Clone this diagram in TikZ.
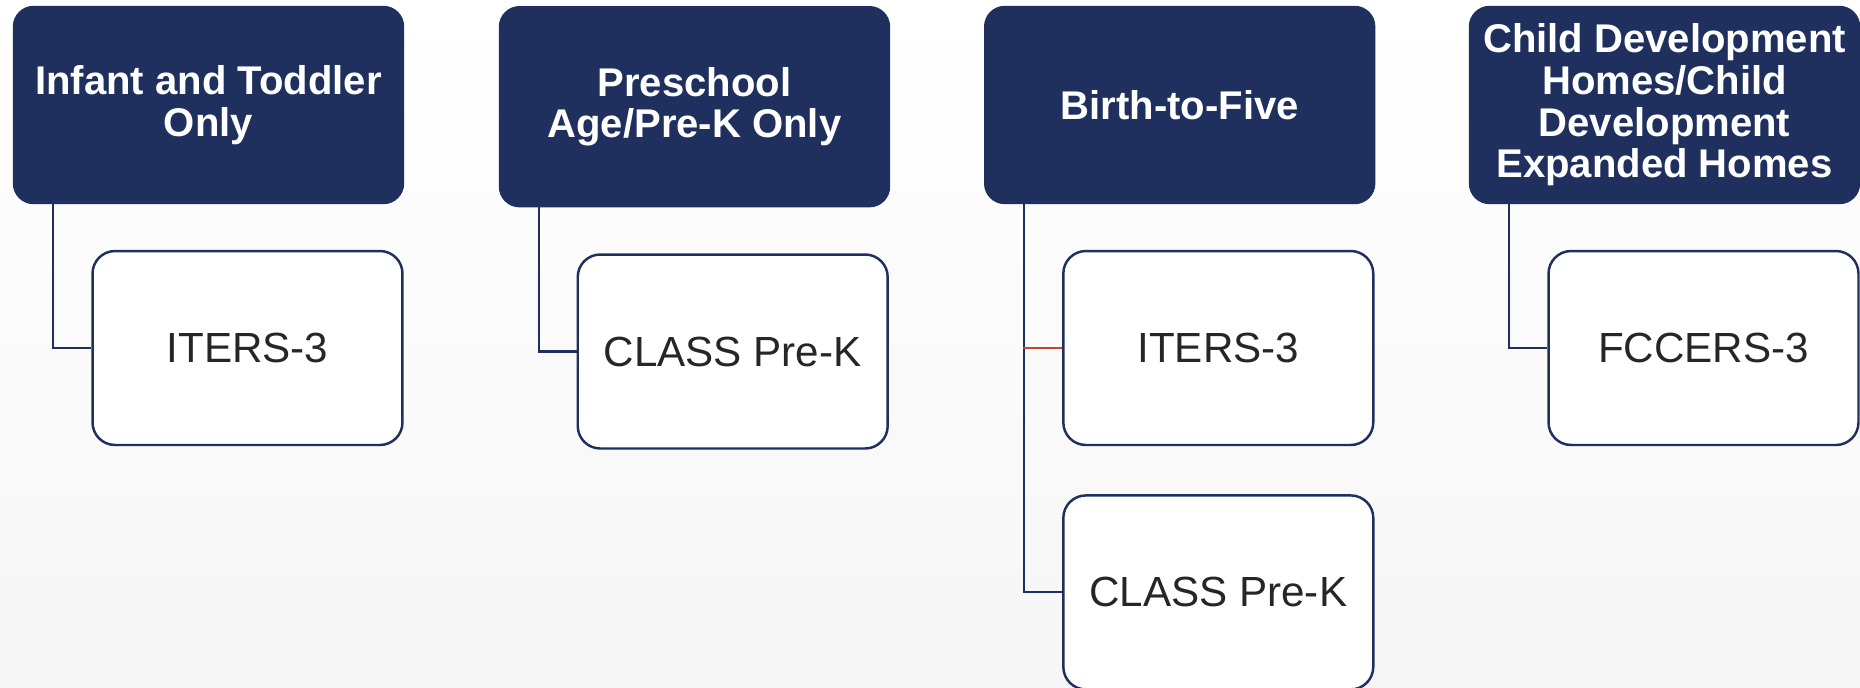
\documentclass[tikz,border=0pt]{standalone}
\usepackage{fontspec}
\setmainfont{Liberation Sans}
\usetikzlibrary{positioning}
\definecolor{navy}{RGB}{31,48,94}
\definecolor{rust}{RGB}{192,72,44}
\definecolor{ink}{RGB}{38,38,38}
\definecolor{paper}{RGB}{246,246,246}
\begin{document}
\begin{tikzpicture}[x=0.02cm,y=-0.02cm,
  head/.style={draw=navy,fill=navy,rounded corners=0.4cm,line width=0.8pt,minimum width=7.8cm,minimum height=3.94cm,text=white,align=center,inner sep=0pt,font=\fontsize{22.8}{23.7}\selectfont\bfseries},
  leaf/.style={draw=navy,fill=white,rounded corners=0.45cm,line width=1.4pt,minimum width=6.2cm,minimum height=3.88cm,text=ink,inner sep=0pt,font=\fontsize{24}{28}\selectfont},
  link/.style={navy,line width=1.15pt}]
\useasboundingbox (0,0) rectangle (1860,687);
\shade[top color=white,middle color=white,bottom color=paper] (0,0) rectangle (1860,687);
% categories
\node[head] (h1) at (208.5,105) {Infant and Toddler\\Only};
\node[head,minimum height=4cm] (h2) at (694.5,106.7) {Preschool\\Age/Pre-K Only};
\node[head] (h3) at (1179.7,105) {Birth-to-Five};
\node[head] (h4) at (1664.5,105) {Child Development\\Homes/Child\\Development\\Expanded Homes};
% tools
\node[leaf] (c1) at (247.5,348) {ITERS-3};
\node[leaf] (c2) at (732.7,351.5) {CLASS Pre-K};
\node[leaf] (c3) at (1218.3,348) {ITERS-3};
\node[leaf,below=0.96cm of c3] (c5) {CLASS Pre-K};
\node[leaf] (c4) at (1703.5,348) {FCCERS-3};
\foreach \i in {1,2,4} {
  \draw[link] (h\i.south west) ++(40,0) |- (c\i.west);
  }
\draw[link] (h3.south west) ++(40,0) |- (c5.west);
\draw[rust,line width=1.3pt] (c3.west) -- ++(-39,0);
\end{tikzpicture}
\end{document}
